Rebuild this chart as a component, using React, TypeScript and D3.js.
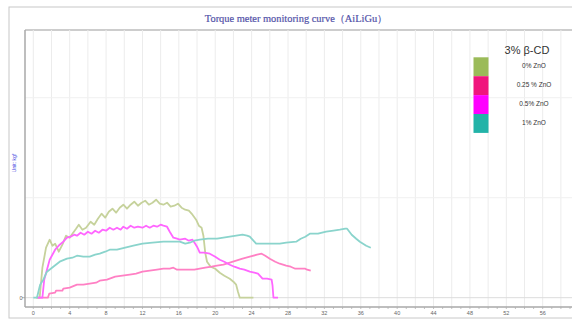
import React from 'react';
import * as d3 from 'd3';

// time (x) / torque (y) readings
const zno0: [number, number][] = [
  [0.3, 0], [0.7, 0], [1.0, 3.0], [1.4, 5.0], [1.8, 5.8], [2.1, 5.2], [2.4, 5.4], [2.8, 4.6],
  [3.2, 5.3], [3.6, 6.2], [4.0, 6.0], [4.3, 6.4], [4.7, 6.9], [5.0, 7.3], [5.4, 6.8], [5.8, 7.0],
  [6.3, 7.6], [6.7, 7.3], [7.1, 7.9], [7.5, 8.4], [7.9, 8.0], [8.3, 8.6], [8.7, 8.9], [9.1, 8.5],
  [9.5, 9.0], [9.9, 9.3], [10.3, 8.9], [10.7, 9.3], [11.1, 9.6], [11.5, 9.2], [11.9, 9.5], [12.3, 9.7],
  [12.7, 9.3], [13.1, 9.5], [13.5, 9.8], [13.9, 9.4], [14.3, 9.3], [14.7, 9.5], [15.1, 9.1], [15.5, 9.2],
  [15.9, 9.4], [16.3, 9.0], [16.7, 8.8], [17.1, 8.7], [17.5, 8.3], [17.9, 7.8], [18.2, 7.2], [18.5, 7.0],
  [18.7, 6.2], [18.9, 4.5], [19.1, 3.6], [19.5, 3.1], [20.0, 2.9], [20.5, 2.5], [21.0, 2.2], [21.6, 1.9],
  [22.0, 1.6], [22.3, 1.3], [22.5, 0.6], [22.7, 0], [24.2, 0],
];

const zno025: [number, number][] = [
  [0.4, 0], [1.6, 0], [1.75, 0.4], [2.4, 0.5], [2.5, 0.7], [3.2, 0.7], [3.3, 0.9], [4.0, 1.0],
  [4.8, 1.3], [5.5, 1.3], [6.2, 1.4], [6.9, 1.5], [7.3, 1.7], [8.1, 1.8], [9.0, 2.1], [9.8, 2.2],
  [10.6, 2.3], [11.3, 2.4], [12.0, 2.6], [12.8, 2.7], [13.6, 2.8], [14.3, 2.9], [15.0, 2.9], [15.4, 3.0],
  [15.8, 2.8], [16.6, 2.8], [17.7, 2.8], [18.3, 2.9], [18.9, 3.0], [19.6, 3.1], [20.2, 3.2], [20.9, 3.3],
  [21.6, 3.5], [22.3, 3.7], [23.0, 3.9], [23.8, 4.1], [24.6, 4.3], [25.1, 4.4], [25.5, 4.2], [26.0, 3.9],
  [26.6, 3.6], [27.1, 3.4], [27.8, 3.2], [28.3, 3.1], [28.8, 2.9], [29.9, 2.9], [30.1, 2.8], [30.5, 2.7],
];

const zno05: [number, number][] = [
  [0.5, 0], [1.0, 0], [1.2, 1.8], [1.5, 2.8], [1.8, 3.8], [2.1, 4.3], [2.4, 4.8], [2.9, 5.3],
  [3.3, 5.6], [3.7, 6.0], [4.1, 6.1], [4.5, 6.3], [4.8, 6.2], [5.2, 6.5], [5.6, 6.3], [6.0, 6.6],
  [6.4, 6.4], [6.8, 6.7], [7.2, 6.5], [7.6, 6.8], [8.0, 6.7], [8.4, 7.0], [8.8, 6.8], [9.2, 7.0],
  [9.6, 6.8], [9.9, 7.1], [10.3, 6.9], [10.7, 7.2], [11.1, 7.0], [11.5, 7.1], [12.0, 7.0], [12.4, 7.2],
  [12.8, 7.0], [13.2, 7.2], [13.6, 7.1], [14.0, 7.3], [14.3, 7.2], [14.7, 7.1], [15.0, 6.6], [15.4, 6.0],
  [15.8, 5.9], [16.1, 5.8], [16.7, 5.9], [17.1, 5.7], [17.5, 5.8], [17.8, 5.4], [18.0, 5.1], [18.3, 4.5],
  [18.8, 4.5], [19.4, 4.4], [20.0, 4.1], [20.5, 3.8], [21.0, 3.6], [21.6, 3.3], [22.1, 3.1], [22.7, 2.9],
  [23.2, 2.8], [23.8, 2.6], [24.3, 2.5], [24.7, 2.4], [25.0, 2.1], [25.2, 1.9], [25.7, 1.9], [26.2, 1.8],
  [26.3, 1.2], [26.4, 0], [26.9, 0],
];

const zno1: [number, number][] = [
  [0, 0], [0.4, 0], [0.75, 1.3], [1.1, 1.8], [1.5, 2.6], [2.2, 3.1], [2.9, 3.6], [3.7, 3.9],
  [4.3, 4.0], [4.8, 4.2], [5.5, 4.1], [6.2, 4.1], [6.8, 4.3], [7.3, 4.4], [7.9, 4.6], [8.4, 4.8],
  [9.2, 4.8], [10.1, 5.0], [11.0, 5.2], [12.0, 5.4], [13.1, 5.5], [14.3, 5.6], [15.2, 5.6], [16.1, 5.6],
  [16.7, 5.4], [17.2, 5.5], [17.7, 5.7], [18.3, 5.8], [19.2, 5.9], [20.2, 5.9], [20.9, 6.0], [21.6, 6.1],
  [22.3, 6.2], [23.0, 6.3], [23.5, 6.2], [23.8, 6.1], [24.2, 5.7], [24.5, 5.4], [25.8, 5.4], [27.1, 5.4],
  [27.8, 5.5], [28.9, 5.6], [29.4, 5.9], [29.9, 6.1], [30.4, 6.4], [31.3, 6.4], [32.2, 6.6], [33.0, 6.7],
  [33.7, 6.8], [34.3, 6.9], [34.5, 6.9], [35.0, 6.3], [35.5, 5.9], [35.9, 5.6], [36.6, 5.2], [37.1, 5.0],
];

const seriesNames = ['0% ZnO', '0.25 % ZnO', '0.5% ZnO', '1% ZnO'];
const seriesData = [zno0, zno025, zno05, zno1];
const swatchColors = ['#9bbb59', '#f0157d', '#ff00ff', '#22b3a8'];
const lineColors = ['#c6d29c', '#ff80c4', '#ff66ff', '#8ad4cc'];
const xTicks = d3.range(0, 60, 4);

export default function App() {
  const width = 572;
  const height = 320;

  const x = d3.scaleLinear().domain([0, 56]).range([33.3, 542.7]);
  const y = d3.scaleLinear().domain([0, 20]).range([297.7, 97.7]);

  const line = d3.line<[number, number]>()
    .x(d => x(d[0]))
    .y(d => y(d[1]));

  const plotLeft = 25;
  const plotTop = 30;
  const axisY = 307;

  const gridX = d3.range(0, 62, 2);
  const minorX = d3.range(0, 62, 1);

  return (
    <svg width={width} height={height} style={{ position: 'absolute', left: 0, top: 0, background: '#fff' }}>
      {/* outer frame and title band */}
      <rect x={9} y={7} width={600} height={311} fill="none" stroke="#c8c8c8" strokeWidth={1} />
      <line x1={plotLeft} x2={width} y1={plotTop} y2={plotTop} stroke="#bdbdbd" strokeWidth={1.5} />
      <text x={296} y={22} textAnchor="middle" fontFamily="'Liberation Serif', serif" fontSize={10.4}
        fill="#5252a8" stroke="#5252a8" strokeWidth={0.2}>Torque meter monitoring curve（AiLiGu）</text>

      {/* grid */}
      {gridX.map(t => (
        <line key={'gx' + t} x1={x(t)} x2={x(t)} y1={plotTop} y2={axisY} stroke="#ececec" strokeWidth={1} />
      ))}
      {[10, 20].map(v => (
        <line key={'gy' + v} x1={plotLeft} x2={width} y1={y(v)} y2={y(v)} stroke="#f0f0f0" strokeWidth={1} />
      ))}
      <line x1={plotLeft} x2={width} y1={y(0)} y2={y(0)} stroke="#dcdcdc" strokeWidth={1} />

      {/* axes */}
      <line x1={plotLeft} x2={plotLeft} y1={plotTop} y2={axisY} stroke="#a8a8a8" strokeWidth={1.5} />
      <line x1={plotLeft} x2={width} y1={axisY} y2={axisY} stroke="#a8a8a8" strokeWidth={1.5} />
      {minorX.map(t => (
        <line key={'mx' + t} x1={x(t)} x2={x(t)} y1={axisY} y2={axisY + 2} stroke="#b0b0b0" strokeWidth={0.8} />
      ))}
      {xTicks.map(t => (
        <text key={'xt' + t} x={x(t)} y={315} textAnchor="middle" fontFamily="'Liberation Sans', sans-serif"
          fontSize={5.5} fill="#666">{t}</text>
      ))}
      <line x1={plotLeft - 3} x2={plotLeft} y1={y(0)} y2={y(0)} stroke="#999" strokeWidth={0.8} />
      <text x={21} y={y(0) + 2} textAnchor="middle" fontFamily="'Liberation Sans', sans-serif" fontSize={5.5}
        fill="#666">0</text>
      <text transform="translate(15.5,163) rotate(-90)" textAnchor="middle" fontFamily="'Liberation Sans', sans-serif"
        fontSize={5} fill="#4040e0">Unit: kgf</text>

      {/* curves */}
      {seriesData.map((d, i) => (
        <path key={'s' + i} d={line(d) || ''} fill="none" stroke={lineColors[i]} strokeWidth={1.8}
          strokeLinejoin="round" />
      ))}

      {/* legend */}
      <text x={527} y={54} textAnchor="middle" fontFamily="'Liberation Sans', sans-serif" fontSize={11}
        fill="#333">3% β-CD</text>
      {seriesNames.map((name, i) => (
        <g key={'lg' + i}>
          <rect x={473.5} y={57.3 + i * 18.9} width={15} height={18.9} fill={swatchColors[i]} />
          <text x={534} y={68 + i * 18.9} textAnchor="middle" fontFamily="'Liberation Sans', sans-serif"
            fontSize={6.5} fill="#333">{name}</text>
        </g>
      ))}
    </svg>
  );
}
